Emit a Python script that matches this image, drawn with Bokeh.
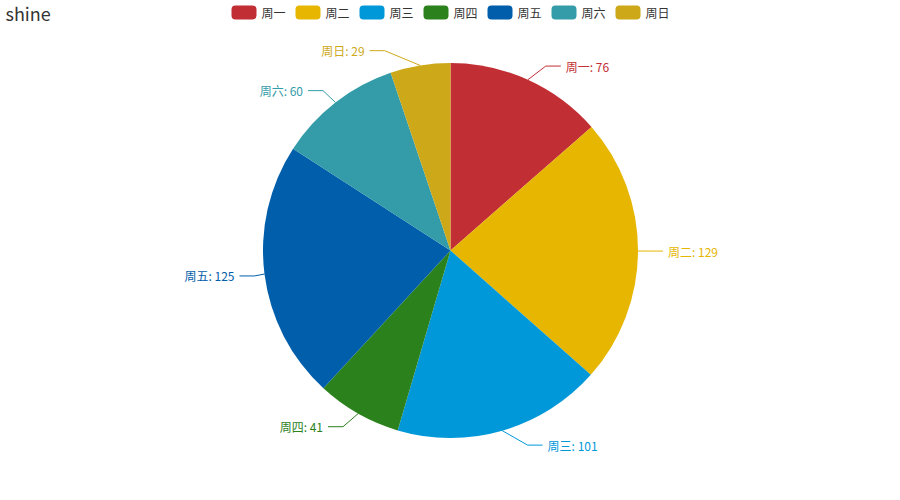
import math
from bokeh.plotting import figure
from bokeh.models import Range1d, ColumnDataSource
from bokeh.core.properties import value
from bokeh.embed import file_html
from bokeh.resources import INLINE

# ---- data ----
categories = ["周一", "周二", "周三", "周四", "周五", "周六", "周日"]
values = [76, 129, 101, 41, 125, 60, 29]
colors = ["#c12e34", "#e6b600", "#0098d9", "#2b821d", "#005eaa", "#339ca8", "#cda819"]
title_text = "shine"

# ---- layout (reference pixel space, y flipped so Y = 500 - y_ref) ----
W, H = 884, 484
p = figure(width=W, height=H, x_range=Range1d(0, W), y_range=Range1d(500 - H, 500),
           output_backend="svg", toolbar_location=None, min_border=0)
p.axis.visible = False
p.grid.visible = False
p.outline_line_color = None
p.background_fill_color = "white"
p.border_fill_color = "white"

FONT = "Noto Sans CJK SC"
cx, cy, r = 450.0, 250.0, 187.5
L1, L2, GAP = 15.0, 15.0, 5.0

total = float(sum(values))
starts, ends = [], []
acc = 0.0
for v in values:
    starts.append(math.pi / 2 - acc / total * 2 * math.pi)
    acc += v
    ends.append(math.pi / 2 - acc / total * 2 * math.pi)

src = ColumnDataSource(dict(start=starts, end=ends, color=colors))
p.wedge(x=cx, y=cy, radius=r, start_angle="start", end_angle="end", direction="clock",
        fill_color="color", line_color=None, source=src)

# ---- label lines & labels (echarts-like placement) ----
xs, ys, tx, ty, tt, ta = [], [], [], [], [], []
acc = 0.0
for name, v in zip(categories, values):
    mid = (acc + v / 2) / total * 2 * math.pi  # clockwise from top
    acc += v
    sx, sy = math.sin(mid), math.cos(mid)
    d = -1 if sx < 0 else 1
    x1, y1 = cx + r * sx, cy + r * sy
    y2 = cy + (r + L1) * sy
    dy = abs(y2 - cy)
    R = r + L1 + L2
    dx = math.sqrt(max(R * R - dy * dy, 0))
    textx = cx + d * dx
    x3 = textx - d * GAP
    x2 = x3 - d * L2
    xs.append([x1, x2, x3])
    ys.append([y1, y2, y2])
    tx.append(textx)
    ty.append(y2)
    tt.append(f"{name}: {v}")
    ta.append("left" if d > 0 else "right")

p.multi_line(xs=xs, ys=ys, line_color=colors, line_width=1)
p.text(x=tx, y=ty, text=tt, text_align=ta, text_baseline="middle",
       text_color=colors, text_font=value(FONT), text_font_size="12px")

# ---- legend ----
item_w = 25 + 5 + 24 + 10
legend_w = item_w * len(categories) - 10
lx0 = cx - legend_w / 2
lefts = [lx0 + i * item_w for i in range(len(categories))]
p.quad(left=lefts, right=[l + 25 for l in lefts], top=500 - 5, bottom=500 - 19,
       fill_color=colors, line_color=None, border_radius=4)
p.text(x=[l + 30 for l in lefts], y=500 - 12, text=categories, text_align="left",
       text_baseline="middle", text_color="#333333", text_font=value(FONT),
       text_font_size="12px")

# ---- title ----
p.text(x=[5], y=[500 - 12], text=[title_text], text_align="left", text_baseline="middle",
       text_color="#333333", text_font=value(FONT), text_font_size="18px")

open("out.html", "w").write(file_html(p, INLINE))
